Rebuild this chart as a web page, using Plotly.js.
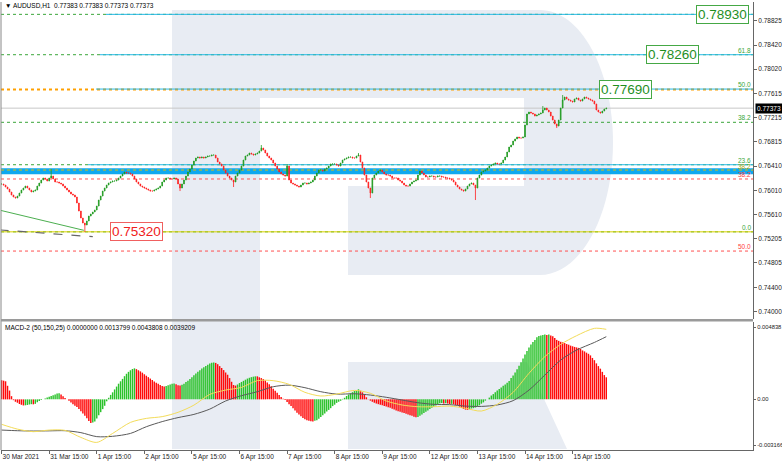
<!DOCTYPE html>
<html><head><meta charset="utf-8">
<script src="https://cdn.plot.ly/plotly-3.0.1.min.js"></script>
<style>html,body{margin:0;padding:0;background:#fff;overflow:hidden}#chart{width:782px;height:461px}</style>
</head><body><div id="chart"></div>
<script>
// ---------------- DATA ----------------
const symbolHeader = '\u25BC AUDUSD,H1\u00a0\u00a00.77383 0.77383 0.77373 0.77373';
const macdHeader = 'MACD-2 (50,150,25) 0.0000000 0.0013799 0.0043808 0.0039209';

const tickIdx = [0,24,48,72,96,120,144,168,192,216,240,264,288];
const tickLabels = ['30 Mar 2021','31 Mar 15:00','1 Apr 15:00','2 Apr 15:00','5 Apr 15:00','6 Apr 15:00','7 Apr 15:00','8 Apr 15:00','9 Apr 15:00','12 Apr 15:00','13 Apr 15:00','14 Apr 15:00','15 Apr 15:00'];
const priceTicks = [0.78825,0.78420,0.78020,0.77615,0.77215,0.76815,0.76410,0.76010,0.75610,0.75205,0.74805,0.74400,0.74000];
const macdTickLabels = ['0.004838','0.00','-0.003166'];

const closes = [
0.76114,0.76097,0.76064,0.76031,0.75981,0.75931,0.75898,0.75881,0.75914,0.75964,
0.76014,0.76047,0.76080,0.76047,0.76014,0.75981,0.75997,0.76014,0.76080,0.76130,
0.76180,0.76213,0.76197,0.76163,0.76213,0.76246,0.76197,0.76147,0.76147,0.76130,
0.76114,0.76080,0.76047,0.76014,0.75981,0.75948,0.75931,0.75898,0.75798,0.75665,
0.75549,0.75466,0.75433,0.75500,0.75582,0.75616,0.75649,0.75682,0.75748,0.75848,
0.75914,0.75997,0.76047,0.76097,0.76130,0.76147,0.76163,0.76163,0.76180,0.76213,
0.76246,0.76280,0.76313,0.76296,0.76296,0.76280,0.76246,0.76197,0.76147,0.76114,
0.76080,0.76064,0.76047,0.76031,0.76014,0.75997,0.75997,0.76014,0.76031,0.76047,
0.76080,0.76147,0.76180,0.76213,0.76213,0.76197,0.76197,0.76213,0.76197,0.76114,
0.76047,0.76114,0.76180,0.76246,0.76313,0.76363,0.76429,0.76495,0.76545,0.76562,
0.76545,0.76562,0.76545,0.76562,0.76578,0.76578,0.76595,0.76595,0.76545,0.76479,
0.76446,0.76412,0.76346,0.76296,0.76246,0.76213,0.76180,0.76147,0.76246,0.76296,
0.76346,0.76412,0.76512,0.76578,0.76595,0.76628,0.76612,0.76595,0.76612,0.76628,
0.76661,0.76711,0.76678,0.76628,0.76578,0.76545,0.76512,0.76462,0.76412,0.76363,
0.76313,0.76280,0.76263,0.76246,0.76412,0.76180,0.76130,0.76114,0.76097,0.76080,
0.76064,0.76097,0.76130,0.76130,0.76114,0.76130,0.76147,0.76180,0.76246,0.76296,
0.76346,0.76346,0.76329,0.76363,0.76379,0.76412,0.76446,0.76446,0.76446,0.76429,
0.76412,0.76462,0.76512,0.76529,0.76545,0.76562,0.76562,0.76545,0.76545,0.76578,
0.76595,0.76479,0.76379,0.76263,0.76147,0.76047,0.75964,0.76213,0.76263,0.76296,
0.76329,0.76346,0.76313,0.76280,0.76263,0.76263,0.76246,0.76213,0.76213,0.76213,
0.76180,0.76163,0.76130,0.76097,0.76080,0.76080,0.76114,0.76147,0.76163,0.76180,
0.76263,0.76329,0.76296,0.76263,0.76230,0.76230,0.76246,0.76246,0.76230,0.76230,
0.76246,0.76246,0.76230,0.76230,0.76213,0.76213,0.76197,0.76180,0.76147,0.76097,
0.76064,0.76031,0.76014,0.75997,0.76031,0.76080,0.76114,0.76130,0.76097,0.76047,
0.76213,0.76263,0.76313,0.76329,0.76346,0.76379,0.76412,0.76429,0.76446,0.76462,
0.76446,0.76446,0.76462,0.76512,0.76562,0.76645,0.76728,0.76761,0.76827,0.76861,
0.76894,0.76877,0.76877,0.76894,0.77093,0.77276,0.77309,0.77292,0.77276,0.77242,
0.77259,0.77276,0.77292,0.77342,0.77375,0.77342,0.77309,0.77242,0.77176,0.77110,
0.77076,0.77176,0.77375,0.77508,0.77558,0.77525,0.77508,0.77491,0.77475,0.77525,
0.77541,0.77508,0.77491,0.77525,0.77558,0.77541,0.77525,0.77508,0.77491,0.77442,
0.77342,0.77309,0.77292,0.77325,0.77359,0.77373];

// notable wick extremes
const wickHighIdx = [25, 131, 144, 180, 273, 283];
const wickHighVal = [0.76363, 0.76761, 0.76445, 0.76628, 0.77408, 0.77591];
const wickLowIdx = [42, 90, 117, 186, 239, 280];
const wickLowVal = [0.75320, 0.75997, 0.76064, 0.75881, 0.75848, 0.77043];

const macdHist = [
0.00119,0.00117,0.00113,0.00085,0.00055,0.00020,-0.00005,-0.00015,-0.00021,-0.00029,
-0.00034,-0.00038,-0.00037,-0.00035,-0.00032,-0.00030,-0.00031,-0.00028,-0.00018,-0.00010,
-0.00004,0.00001,0.00006,0.00012,0.00017,0.00021,0.00026,0.00031,0.00036,0.00038,
0.00031,0.00020,0.00009,0.00000,-0.00009,-0.00020,-0.00030,-0.00040,-0.00048,-0.00060,
-0.00074,-0.00088,-0.00102,-0.00118,-0.00135,-0.00148,-0.00145,-0.00138,-0.00120,-0.00100,
-0.00080,-0.00061,-0.00040,-0.00012,0.00010,0.00028,0.00044,0.00062,0.00080,0.00098,
0.00113,0.00128,0.00145,0.00160,0.00172,0.00182,0.00190,0.00194,0.00189,0.00182,
0.00175,0.00167,0.00157,0.00148,0.00139,0.00130,0.00121,0.00112,0.00104,0.00097,
0.00090,0.00083,0.00081,0.00084,0.00088,0.00093,0.00098,0.00100,0.00094,0.00089,
0.00087,0.00092,0.00098,0.00108,0.00117,0.00128,0.00139,0.00151,0.00162,0.00172,
0.00182,0.00193,0.00201,0.00209,0.00217,0.00224,0.00229,0.00231,0.00228,0.00220,
0.00208,0.00196,0.00183,0.00168,0.00154,0.00133,0.00110,0.00090,0.00086,0.00093,
0.00102,0.00109,0.00116,0.00123,0.00130,0.00135,0.00139,0.00142,0.00144,0.00144,
0.00138,0.00133,0.00127,0.00118,0.00106,0.00095,0.00082,0.00066,0.00054,0.00042,
0.00028,0.00015,0.00004,-0.00004,-0.00017,-0.00030,-0.00041,-0.00056,-0.00070,-0.00084,
-0.00094,-0.00105,-0.00116,-0.00124,-0.00130,-0.00134,-0.00137,-0.00138,-0.00133,-0.00130,
-0.00121,-0.00110,-0.00100,-0.00089,-0.00076,-0.00066,-0.00055,-0.00042,-0.00033,-0.00022,
-0.00015,-0.00009,0.00003,0.00010,0.00021,0.00030,0.00038,0.00045,0.00052,0.00058,
0.00063,0.00054,0.00044,0.00029,0.00013,0.00001,-0.00008,-0.00015,-0.00021,-0.00026,
-0.00030,-0.00034,-0.00037,-0.00041,-0.00044,-0.00049,-0.00053,-0.00058,-0.00064,-0.00069,
-0.00074,-0.00078,-0.00082,-0.00086,-0.00090,-0.00094,-0.00099,-0.00103,-0.00108,-0.00112,
-0.00110,-0.00103,-0.00095,-0.00086,-0.00078,-0.00069,-0.00061,-0.00052,-0.00046,-0.00038,
-0.00032,-0.00025,-0.00023,-0.00026,-0.00024,-0.00026,-0.00029,-0.00028,-0.00031,-0.00035,
-0.00038,-0.00046,-0.00054,-0.00060,-0.00064,-0.00066,-0.00062,-0.00057,-0.00055,-0.00051,
-0.00044,-0.00037,-0.00027,-0.00019,-0.00008,0.00000,0.00011,0.00024,0.00033,0.00044,
0.00056,0.00065,0.00075,0.00085,0.00093,0.00104,0.00115,0.00133,0.00150,0.00168,
0.00188,0.00210,0.00232,0.00256,0.00281,0.00303,0.00325,0.00343,0.00358,0.00372,
0.00388,0.00396,0.00400,0.00403,0.00405,0.00402,0.00406,0.00400,0.00394,0.00384,
0.00372,0.00366,0.00360,0.00357,0.00352,0.00346,0.00342,0.00336,0.00332,0.00328,
0.00325,0.00322,0.00315,0.00306,0.00300,0.00292,0.00285,0.00275,0.00259,0.00245,
0.00225,0.00208,0.00192,0.00172,0.00152,0.00138];

const macdLineIdx = [0,8,16,24,32,40,48,56,65,73,81,89,97,105,113,121,129,137,145,153,161,169,178,186,194,202,210,218,226,234,242,250,258,266,274,282,290,299,305];
const macdMain = [-0.00156,-0.00186,-0.00202,-0.00192,-0.00194,-0.00238,-0.00269,-0.00213,-0.00144,-0.00119,
-0.00108,-0.00081,-0.00036,0.00031,0.00058,0.00075,0.00117,0.00117,0.00094,0.00044,
0.00021,0.00033,0.00056,0.00038,-0.00010,-0.00035,-0.00046,-0.00046,-0.00042,-0.00056,
-0.00073,-0.00031,0.00044,0.00163,0.00267,0.00344,0.00398,0.00444,0.00438];
const macdSignal = [-0.00192,-0.00196,-0.00198,-0.00197,-0.00196,-0.00208,-0.00233,-0.00231,-0.00213,-0.00171,
-0.00139,-0.00114,-0.00094,-0.00061,-0.00010,0.00023,0.00048,0.00079,0.00089,0.00073,
0.00048,0.00033,0.00035,0.00027,0.00013,-0.00004,-0.00021,-0.00031,-0.00033,-0.00042,
-0.00044,-0.00035,-0.00008,0.00058,0.00152,0.00246,0.00308,0.00356,0.00392];

// horizontal levels
const fibUpLevels = [0.75320, 0.76434, 0.77138, 0.77690, 0.78260, 0.78930];
const fibUpLabels = ['0.0', '23.6', '38.2', '50.0', '61.8', ''];
const fibDownLevels = [0.76197, 0.75001, 0.73856];
const fibDownLabels = ['38.2', '50.0', '61.8'];
const midLevel = 0.76346, midLabel = '38.2';
const zoneLow = 0.76275, zoneHigh = 0.76374;
const currentPrice = 0.77373;
const targetLevels = [0.78930, 0.78260, 0.77690];
const targetTexts = ['0.78930', '0.78260', '0.77690'];
const supportLevel = 0.75320, supportText = '0.75320';
const trendGreenX = [-1, 41.5], trendGreenY = [0.75680, 0.75345];
const trendGrayX = [-1, 46], trendGrayY = [0.75352, 0.75239];

// ---------------- BUILD ----------------
const W = 782, H = 461, ML = 1, MR = 29, MT = 2, MB = 11;
const PW = W - ML - MR, PH = H - MT - MB;
const px = x => (x - ML) / PW;
const py = y => (H - MB - y) / PH;

const idx = closes.map((_, i) => i);
const opens = closes.map((c, i) => i === 0 ? c : closes[i - 1]);
const highs = closes.map((c, i) => Math.max(c, opens[i]));
const lows = closes.map((c, i) => Math.min(c, opens[i]));
wickHighIdx.forEach((k, j) => { highs[k] = Math.max(highs[k], wickHighVal[j]); });
wickLowIdx.forEach((k, j) => { lows[k] = Math.min(lows[k], wickLowVal[j]); });

// histogram as vertical strokes: rising bars green, falling bars red
const upX = [], upY = [], dnX = [], dnY = [];
macdHist.forEach((v, i) => {
  const rising = i > 0 && v > macdHist[i - 1];
  const X = rising ? upX : dnX, Y = rising ? upY : dnY;
  X.push(i, i, null); Y.push(0, v, null);
});

const FONT = 'Liberation Sans, Arial, sans-serif';

const traces = [
  {type: 'candlestick', x: idx, open: opens, high: highs, low: lows, close: closes,
   xaxis: 'x', yaxis: 'y', whiskerwidth: 0, hoverinfo: 'skip',
   increasing: {line: {color: '#1f9a1f', width: 0.8}, fillcolor: '#1f9a1f'},
   decreasing: {line: {color: '#ff2020', width: 0.8}, fillcolor: '#ff2020'}},
  {type: 'scatter', mode: 'lines', x: trendGreenX, y: trendGreenY, xaxis: 'x', yaxis: 'y',
   line: {color: '#4caf50', width: 1}, hoverinfo: 'skip'},
  {type: 'scatter', mode: 'lines', x: trendGrayX, y: trendGrayY, xaxis: 'x', yaxis: 'y',
   line: {color: '#666', width: 1.2, dash: 'dash'}, hoverinfo: 'skip'},
  {type: 'scatter', mode: 'lines', x: upX, y: upY, xaxis: 'x', yaxis: 'y2', connectgaps: false,
   line: {color: '#2cc22c', width: 1.45}, hoverinfo: 'skip'},
  {type: 'scatter', mode: 'lines', x: dnX, y: dnY, xaxis: 'x', yaxis: 'y2', connectgaps: false,
   line: {color: '#ff0a0a', width: 1.45}, hoverinfo: 'skip'},
  {type: 'scatter', mode: 'lines', x: macdLineIdx, y: macdSignal, xaxis: 'x', yaxis: 'y2',
   line: {color: '#5a5a5a', width: 1, shape: 'spline', smoothing: 0.8}, hoverinfo: 'skip'},
  {type: 'scatter', mode: 'lines', x: macdLineIdx, y: macdMain, xaxis: 'x', yaxis: 'y2',
   line: {color: '#f3dc5a', width: 1, shape: 'spline', smoothing: 0.8}, hoverinfo: 'skip'}
];

const WM = '#e8ecf3';
const shapes = [];
// watermark "R"
const rect = (x0, y0, x1, y1) => ({type: 'rect', xref: 'paper', yref: 'paper', x0: px(x0), x1: px(x1), y0: py(y1), y1: py(y0), fillcolor: WM, line: {width: 0}, layer: 'below'});
shapes.push(rect(172, 10, 260, 449));
shapes.push(rect(259, 10, 541, 98));
shapes.push(rect(524, 10, 541, 275));
shapes.push(rect(348, 186, 541, 275));
const P = (x, y) => px(x).toFixed(5) + ',' + py(y).toFixed(5);
shapes.push({type: 'path', xref: 'paper', yref: 'paper', layer: 'below', fillcolor: WM, line: {width: 0},
  path: `M ${P(540,10)} C ${P(580,10)} ${P(613,69)} ${P(613,142.5)} C ${P(613,216)} ${P(580,275)} ${P(540,275)} Z`});
shapes.push({type: 'path', xref: 'paper', yref: 'paper', layer: 'below', fillcolor: WM, line: {width: 0},
  path: `M ${P(348,362)} L ${P(527,362)} L ${P(567,449)} L ${P(348,449)} Z`});

const hline = (y, color, dash, width, x0) => ({type: 'line', xref: 'paper', yref: 'y', x0: x0 || 0, x1: 1, y0: y, y1: y,
  line: {color: color, width: width || 1, dash: dash || 'solid'}, layer: 'below'});
shapes.push({type: 'rect', xref: 'paper', yref: 'y', x0: 0, x1: 1, y0: zoneLow, y1: zoneHigh, fillcolor: '#10a8ee', line: {width: 0}, layer: 'below'});
const CYAN = '#27b9e6', GREEN = '#3aa63a';
const cyanStart = {0.78930: 106, 0.78260: 100, 0.77690: 96, 0.76434: 88};
fibUpLevels.forEach(l => {
  if (l === 0.77690) shapes.push(hline(l - 0.00006, '#ffa000', 'dot', 2));
  else shapes.push(hline(l, GREEN, 'dot', 1));
  if (cyanStart[l] !== undefined) shapes.push(hline(l, CYAN, 'solid', 1, px(cyanStart[l])));
});
shapes.push(hline(supportLevel, '#d8d000', 'solid', 1));
shapes.push(hline(midLevel, '#e0c000', 'dot', 1));
fibDownLevels.forEach(l => shapes.push(hline(l, '#ff5050', 'dot', 1)));
shapes.push(hline(currentPrice, '#c8c8c8', 'solid', 1));
// borders & pane separator
shapes.push({type: 'line', xref: 'paper', yref: 'paper', x0: 0, x1: 0, y0: 0, y1: 1, line: {color: '#888', width: 1}});
shapes.push({type: 'rect', xref: 'paper', yref: 'paper', x0: 0, x1: 1, y0: py(321.5), y1: py(319), fillcolor: '#9a9a9a', line: {width: 0}});

const annotations = [];
annotations.push({xref: 'paper', yref: 'paper', x: px(3), y: py(6), xanchor: 'left', yanchor: 'middle', showarrow: false,
  text: symbolHeader, font: {family: FONT, size: 6.5, color: '#000'}});
annotations.push({xref: 'paper', yref: 'paper', x: px(3), y: py(328), xanchor: 'left', yanchor: 'middle', showarrow: false,
  text: macdHeader, font: {family: FONT, size: 6.5, color: '#000'}});
fibUpLevels.forEach((l, j) => { if (fibUpLabels[j]) annotations.push({xref: 'paper', yref: 'y', x: 1, y: l, xanchor: 'right', yanchor: 'bottom', showarrow: false,
  text: fibUpLabels[j], font: {family: FONT, size: 6.5, color: GREEN}, yshift: -1}); });
annotations.push({xref: 'paper', yref: 'y', x: 1, y: midLevel, xanchor: 'right', yanchor: 'bottom', showarrow: false,
  text: midLabel, font: {family: FONT, size: 6.5, color: '#b8a800'}, yshift: -2});
fibDownLevels.forEach((l, j) => annotations.push({xref: 'paper', yref: 'y', x: 1, y: l, xanchor: 'right', yanchor: 'bottom', showarrow: false,
  text: fibDownLabels[j], font: {family: FONT, size: 6.5, color: '#ff4040'}, yshift: -1}));
const boxRight = [749, 699, 652];
targetLevels.forEach((l, j) => annotations.push({xref: 'paper', yref: 'y', x: px(boxRight[j]), y: l, xanchor: 'right', yanchor: 'middle', showarrow: false,
  text: targetTexts[j], font: {family: FONT, size: 13.5, color: '#1f8f1f'}, bgcolor: '#ffffff', bordercolor: '#45a845', borderwidth: 1, borderpad: 1}));
annotations.push({xref: 'paper', yref: 'y', x: px(163), y: supportLevel, xanchor: 'right', yanchor: 'middle', showarrow: false,
  text: supportText, font: {family: FONT, size: 13.5, color: '#f02020'}, bgcolor: '#ffffff', bordercolor: '#f06060', borderwidth: 1, borderpad: 1});
annotations.push({xref: 'paper', yref: 'y', x: 1, y: currentPrice, xanchor: 'left', yanchor: 'middle', showarrow: false, xshift: 2,
  text: currentPrice.toFixed(5), font: {family: FONT, size: 6.5, color: '#fff'}, bgcolor: '#000', borderpad: 1});

const macdRange = [-0.003166, 0.004838];
const layout = {
  width: W, height: H, margin: {l: ML, r: MR, t: MT, b: MB},
  paper_bgcolor: '#ffffff', plot_bgcolor: 'rgba(0,0,0,0)', showlegend: false, boxgap: 0.5,
  font: {family: FONT, size: 6.5, color: '#222'},
  xaxis: {range: [-0.3, 379], tickvals: tickIdx, ticktext: tickLabels, ticks: 'outside', ticklen: 3, tickcolor: '#666',
    ticklabelposition: 'outside right', showline: true, linecolor: '#666', showgrid: false, zeroline: false,
    rangeslider: {visible: false}, anchor: 'y2', tickfont: {family: FONT, size: 6.5, color: '#222'}, fixedrange: true},
  yaxis: {domain: [py(319), 1], range: [0.73873, 0.79135], side: 'right', anchor: 'x',
    tickvals: priceTicks, ticktext: priceTicks.map(v => v.toFixed(5)), ticks: 'outside', ticklen: 3, tickcolor: '#666',
    showline: true, linecolor: '#666', showgrid: false, zeroline: false, tickfont: {family: FONT, size: 6.5, color: '#222'}},
  yaxis2: {domain: [0, py(322)], range: macdRange, side: 'right', anchor: 'x',
    tickvals: [macdRange[1] - 0.00033, 0, macdRange[0] + 0.0003], ticktext: macdTickLabels, ticks: 'outside', ticklen: 2, tickcolor: '#666',
    showline: true, linecolor: '#666', showgrid: false, zeroline: false, tickfont: {family: FONT, size: 5.8, color: '#222'}},
  shapes: shapes, annotations: annotations
};
Plotly.newPlot('chart', traces, layout, {staticPlot: true, displayModeBar: false});
</script></body></html>
